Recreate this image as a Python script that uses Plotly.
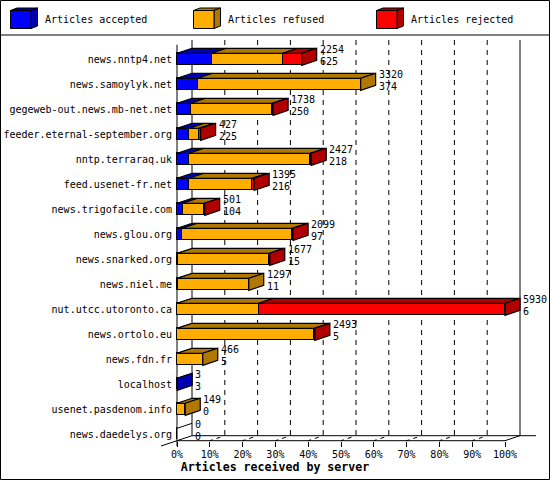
# News server article stats, pseudo-3D stacked bars
import plotly.graph_objects as go

FONT_FAMILY = "DejaVu Sans Mono"
WIDTH = 550
HEIGHT = 480

servers = ["news.nntp4.net", "news.samoylyk.net", "gegeweb-out.news.mb-net.net",
           "feeder.eternal-september.org", "nntp.terraraq.uk", "feed.usenet-fr.net",
           "news.trigofacile.com", "news.glou.org", "news.snarked.org", "news.niel.me",
           "nut.utcc.utoronto.ca", "news.ortolo.eu", "news.fdn.fr", "localhost",
           "usenet.pasdenom.info", "news.daedelys.org"]
totals = [2254, 3320, 1738, 427, 2427, 1395, 501, 2099, 1677, 1297, 5930, 2493, 466, 3, 149, 0]
accepted = [625, 374, 250, 225, 218, 216, 104, 97, 15, 11, 6, 5, 5, 3, 0, 0]
refused = [1286, 2946, 1470, 166, 2190, 1141, 392, 1990, 1654, 1286, 1471, 2480, 461, 0, 149, 0]
rejected = [343, 0, 18, 36, 19, 38, 5, 12, 8, 0, 4453, 8, 0, 0, 0, 0]
percent_ticks = [0, 10, 20, 30, 40, 50, 60, 70, 80, 90, 100]
series_names = ["Articles accepted", "Articles refused", "Articles rejected"]
front_colors = ["#0000FF", "#FFAD00", "#FF0000"]
dark_colors = ["#0000B0", "#B07800", "#B00000"]

MAX_VALUE = 5930

# 축 스케일: 픽셀 <-> 데이터
X0_PX, X100_PX = 177, 505
ROW0_PX, ROW_PITCH = 59.3, 25
X_PER_PX = MAX_VALUE / (X100_PX - X0_PX)
DEPTH_X = 15 * X_PER_PX
DEPTH_Y = 5 / ROW_PITCH
BAR_W = 12 / ROW_PITCH
FRONT_Y = (440.7 - ROW0_PX) / ROW_PITCH
BACK_Y = FRONT_Y - DEPTH_Y


def row_of(py):
    return (py - ROW0_PX) / ROW_PITCH


def line_shape(x0, y0, x1, y1, dash="solid", layer="below"):
    return dict(type="line", xref="x", yref="y", x0=x0, y0=y0, x1=x1, y1=y1,
                line=dict(color="black", width=1, dash=dash), layer=layer)


def poly_trace(xs, ys, color):
    return go.Scatter(x=xs, y=ys, mode="lines", fill="toself", fillcolor=color,
                      line=dict(color="black", width=1.2), hoverinfo="skip", showlegend=False)


def cube_path(x0, x1, y0, y1, dx, dy):
    """범례 상자용 SVG path (paper 좌표)"""
    px = lambda v: v / WIDTH
    py = lambda v: 1 - v / HEIGHT
    front = f"M{px(x0)},{py(y0)} L{px(x1)},{py(y0)} L{px(x1)},{py(y1)} L{px(x0)},{py(y1)} Z"
    top = f"M{px(x0)},{py(y0)} L{px(x0+dx)},{py(y0-dy)} L{px(x1+dx)},{py(y0-dy)} L{px(x1)},{py(y0)} Z"
    side = f"M{px(x1)},{py(y0)} L{px(x1+dx)},{py(y0-dy)} L{px(x1+dx)},{py(y1-dy)} L{px(x1)},{py(y1)} Z"
    return front, top, side


rows = list(range(len(servers)))
stacks = [accepted, refused, rejected]

fig = go.Figure()

# (1) 앞면: 누적 막대
for name, vals, color in zip(series_names, stacks, front_colors):
    fig.add_trace(go.Bar(y=rows, x=vals, orientation="h", name=name, width=BAR_W,
                         marker=dict(color=color, line=dict(color="black", width=1.2)),
                         hoverinfo="skip", showlegend=False))

# (2) 윗면 / 옆면
for r in rows:
    start = 0
    last = None
    top_y = r - BAR_W / 2
    bot_y = r + BAR_W / 2
    for k, vals in enumerate(stacks):
        v = vals[r]
        if v > 0:
            fig.add_trace(poly_trace(
                [start, start + DEPTH_X, start + v + DEPTH_X, start + v, start],
                [top_y, top_y - DEPTH_Y, top_y - DEPTH_Y, top_y, top_y], dark_colors[k]))
            last = k
        start += v
    if last is not None:
        fig.add_trace(poly_trace(
            [start, start + DEPTH_X, start + DEPTH_X, start, start],
            [top_y, top_y - DEPTH_Y, bot_y - DEPTH_Y, bot_y, top_y], dark_colors[last]))
    else:
        # 값이 0인 행은 윤곽선만
        fig.add_trace(go.Scatter(x=[0, DEPTH_X], y=[top_y, top_y - DEPTH_Y], mode="lines",
                                 line=dict(color="black", width=1), hoverinfo="skip", showlegend=False))

# (3) 격자, 축선
shapes = [
    line_shape(0, row_of(44.7), 0, row_of(446)),
    line_shape(DEPTH_X, row_of(40), DEPTH_X, BACK_Y),
    line_shape(0, FRONT_Y, MAX_VALUE, FRONT_Y),
    line_shape(DEPTH_X, BACK_Y, MAX_VALUE + 31 * X_PER_PX, BACK_Y),
    line_shape(-16 * X_PER_PX, FRONT_Y + 5.3 / ROW_PITCH, DEPTH_X, BACK_Y),
    line_shape(MAX_VALUE, FRONT_Y, MAX_VALUE + DEPTH_X, BACK_Y),
    line_shape(MAX_VALUE + DEPTH_X, row_of(40), MAX_VALUE + DEPTH_X, BACK_Y),
]
for p in percent_ticks[1:-1]:
    xv = p / 100 * MAX_VALUE
    shapes.append(line_shape(xv + DEPTH_X, row_of(40), xv + DEPTH_X, BACK_Y, dash="5px,5px"))
    # 눈금에서 뒷면으로 가는 짧은 사선
    shapes.append(line_shape(xv, FRONT_Y, xv + DEPTH_X, BACK_Y, dash="3px,4px,4px,20px"))

# (4) 테두리, 범례
shapes.append(dict(type="rect", xref="paper", yref="paper", x0=0.5 / WIDTH, x1=1 - 0.5 / WIDTH,
                   y0=0.5 / HEIGHT, y1=1 - 0.5 / HEIGHT, line=dict(color="black", width=1), layer="above"))
shapes.append(dict(type="line", xref="paper", yref="paper", x0=0, x1=1, y0=1 - 35 / HEIGHT, y1=1 - 35 / HEIGHT,
                   line=dict(color="black", width=1), layer="above"))

annotations = []
for name, fc, dc, cx, tx in zip(series_names, front_colors, dark_colors, [10.5, 193.5, 376.5], [44, 227, 410]):
    front, top, side = cube_path(cx, cx + 20.5, 10.5, 28.5, 6.5, 2.5)
    for path, col in [(top, dc), (side, dc), (front, fc)]:
        shapes.append(dict(type="path", xref="paper", yref="paper", path=path, fillcolor=col,
                           line=dict(color="black", width=1), layer="above"))
    annotations.append(dict(text=name, xref="paper", yref="paper", x=tx / WIDTH, y=1 - 20 / HEIGHT,
                            xanchor="left", yanchor="middle", showarrow=False, borderpad=0,
                            font=dict(family=FONT_FAMILY, size=10, color="black")))

# (5) 막대 끝의 값 두 줄
for r in rows:
    for val, off in [(totals[r], -0.41), (accepted[r], 0.07)]:
        annotations.append(dict(text=str(val), x=totals[r] + DEPTH_X, y=r + off, xref="x", yref="y",
                                xanchor="left", yanchor="middle", showarrow=False, xshift=2, borderpad=0,
                                font=dict(family=FONT_FAMILY, size=10, color="black")))

fig.update_layout(
    width=WIDTH,
    height=HEIGHT,
    margin=dict(l=0, r=0, t=0, b=0),
    paper_bgcolor="white",
    plot_bgcolor="white",
    barmode="stack",
    bargap=0,
    showlegend=False,
    shapes=shapes,
    annotations=annotations,
    font=dict(family=FONT_FAMILY, size=10, color="black"),
    xaxis=dict(
        range=[-X0_PX * X_PER_PX, (WIDTH - X0_PX) * X_PER_PX],
        anchor="free",
        position=1 - 440.7 / HEIGHT,
        tickvals=[p / 100 * MAX_VALUE for p in percent_ticks],
        ticktext=[f"{p}%" for p in percent_ticks],
        ticks="outside",
        ticklen=5,
        tickwidth=1,
        tickcolor="black",
        ticklabelstandoff=-1,
        showgrid=False,
        zeroline=False,
        showline=False,
        title=dict(text="<b>Articles received by server</b>", standoff=3,
                   font=dict(family=FONT_FAMILY, size=11.6, color="black")),
    ),
    yaxis=dict(
        range=[(HEIGHT - ROW0_PX) / ROW_PITCH, -ROW0_PX / ROW_PITCH],
        anchor="free",
        position=X0_PX / WIDTH,
        tickvals=rows,
        ticktext=servers,
        ticks="",
        ticklabelstandoff=5,
        showgrid=False,
        zeroline=False,
        showline=False,
    ),
)

# 페이지 기본 여백 제거 (550x480 창에 딱 맞게)
fig.write_html("out.html", config=dict(displayModeBar=False),
               post_script="document.body.style.margin='0';")
